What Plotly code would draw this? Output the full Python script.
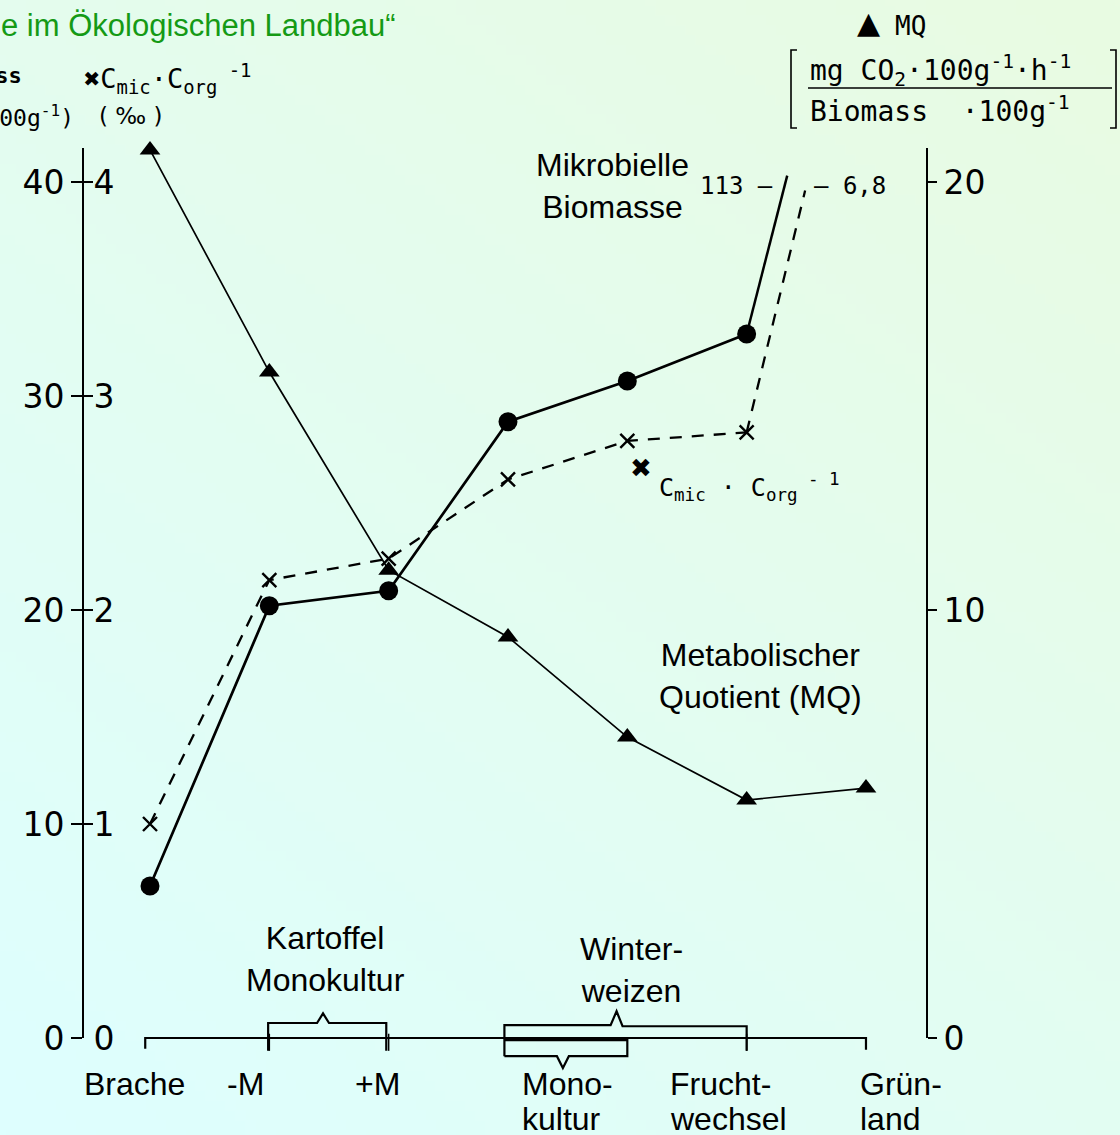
import base64, struct, zlib
import numpy as np
import plotly.graph_objects as go

# ---------------- data ----------------
categories = ["Brache", "-M", "+M", "Monokultur", "Monokultur (WW)", "Fruchtwechsel", "Grünland"]
cat_x = [0, 1, 2, 3, 4, 5, 6]
biomass = [7.1, 20.2, 20.9, 28.8, 30.7, 32.9]          # mg C / 100 g (Grünland off-scale: 113)
biomass_gruenland = 113
biomass_break = (5.34, 40.3)                             # drawn end of broken line
cmic_corg = [1.00, 2.14, 2.24, 2.61, 2.79, 2.83]         # per mille (Grünland off-scale: 6.8)
cmic_gruenland = 6.8
cmic_break = (5.49, 3.96)
mq = [20.75, 15.56, 10.93, 9.37, 7.03, 5.56, 5.84]

left_ticks = [0, 10, 20, 30, 40]
inner_ticks = [0, 1, 2, 3, 4]
right_ticks = [0, 10, 20]

label_line1 = ["Brache", "-M", "+M", "Mono-", "Frucht-", "Grün-"]
label_line2 = ["", "", "", "kultur", "wechsel", "land"]
label_x = [-0.13, 0.80, 1.91, 3.10, 4.34, 5.93]
label_anchor = ["center", "center", "center", "left", "left", "left"]

# ---------------- geometry ----------------
W, H = 1120, 1135
L, R, T, B = 84, 926, 148, 1038
X0PIX, DX = 150.0, 119.33
XMIN, XMAX = (L - X0PIX) / DX, (R - X0PIX) / DX
PPU = 21.4
YMAX = (B - T) / PPU


def px(x):
    return (x - L) / (R - L)


def py(y):
    return (B - y) / (B - T)


def xp(i):
    return (i - XMIN) / (XMAX - XMIN)


def yp(v):
    return v / YMAX


# ---------------- background gradient ----------------
gw, gh = 112, 114
u = np.linspace(0, 1, gw)[None, :]
v = np.linspace(0, 1, gh)[:, None]
t = np.clip(((1 - u) * 0.55 + v * 0.75) / 1.3, 0, 1)
c0 = np.array([233, 251, 226], float)
c1 = np.array([222, 255, 255], float)
img = (c0[None, None, :] * (1 - t[..., None]) + c1[None, None, :] * t[..., None]).astype(np.uint8)


def png_bytes(arr):
    h, w, _ = arr.shape
    raw = b"".join(b"\x00" + arr[r].tobytes() for r in range(h))

    def chunk(tag, data):
        c = struct.pack(">I", len(data)) + tag + data
        return c + struct.pack(">I", zlib.crc32(tag + data) & 0xFFFFFFFF)

    return (b"\x89PNG\r\n\x1a\n" + chunk(b"IHDR", struct.pack(">IIBBBBB", w, h, 8, 2, 0, 0, 0))
            + chunk(b"IDAT", zlib.compress(raw, 9)) + chunk(b"IEND", b""))


bg_src = "data:image/png;base64," + base64.b64encode(png_bytes(img)).decode()

# ---------------- figure ----------------
fig = go.Figure()

# microbial biomass
fig.add_trace(go.Scatter(x=cat_x[:6], y=biomass, mode="lines+markers", yaxis="y",
                         line=dict(color="black", width=2.7),
                         marker=dict(symbol="circle", size=19, color="black"),
                         name="Mikrobielle Biomasse", cliponaxis=False))
fig.add_trace(go.Scatter(x=[cat_x[5], biomass_break[0]], y=[biomass[5], biomass_break[1]],
                         mode="lines", yaxis="y", line=dict(color="black", width=2.5),
                         showlegend=False, hoverinfo="skip"))
# Cmic/Corg
fig.add_trace(go.Scatter(x=cat_x[:6], y=cmic_corg, mode="lines+markers", yaxis="y3",
                         line=dict(color="black", width=2.3, dash="12px,10px"),
                         marker=dict(symbol="x-thin", size=14, line=dict(color="black", width=2.4)),
                         name="Cmic/Corg", cliponaxis=False))
fig.add_trace(go.Scatter(x=[cat_x[5], cmic_break[0]], y=[cmic_corg[5], cmic_break[1]],
                         mode="lines", yaxis="y3", line=dict(color="black", width=2.3, dash="12px,10px"),
                         showlegend=False, hoverinfo="skip"))
# MQ
fig.add_trace(go.Scatter(x=cat_x, y=mq, mode="lines+markers", yaxis="y2",
                         line=dict(color="black", width=1.7),
                         marker=dict(symbol="triangle-up", size=18, color="black"),
                         name="MQ", cliponaxis=False))

tickfont = dict(family="DejaVu Sans", size=33, color="black")

fig.update_layout(
    width=W, height=H,
    margin=dict(l=L, r=W - R, t=T, b=H - B, autoexpand=False),
    paper_bgcolor="#e3fdf0",
    plot_bgcolor="rgba(0,0,0,0)",
    showlegend=False,
    xaxis=dict(range=[XMIN, XMAX], visible=False, showgrid=False, zeroline=False, fixedrange=True),
    yaxis=dict(range=[0, YMAX], side="left", showline=True, linecolor="black", linewidth=2,
               ticks="outside", ticklen=11, tickwidth=1.5, tickcolor="black",
               tickvals=left_ticks, tickfont=tickfont, showgrid=False, zeroline=False),
    yaxis3=dict(range=[0, YMAX / 10], overlaying="y", side="left", anchor="x", showline=False,
                ticks="inside", ticklen=9, tickwidth=1.5, tickcolor="black",
                ticklabelposition="inside", ticklabelstandoff=4, ticklabeloverflow="allow",
                tickvals=inner_ticks, tickfont=tickfont, showgrid=False, zeroline=False),
    yaxis2=dict(range=[0, YMAX / 2], overlaying="y", side="right", anchor="x", showline=True,
                linecolor="black", linewidth=2, ticks="outside", ticklen=9, tickwidth=1.5,
                tickcolor="black", tickvals=right_ticks, tickfont=tickfont,
                showgrid=False, zeroline=False),
    images=[dict(source=bg_src, xref="paper", yref="paper", x=px(0), y=py(0),
                 sizex=W / (R - L), sizey=H / (B - T), sizing="stretch", layer="below",
                 xanchor="left", yanchor="top")],
)

# ---------------- shapes (baseline, brackets, unit fraction) ----------------
LW = 2.2
shapes = []


def path(pts, width=LW):
    d = "M " + " L ".join(f"{a:.5f},{b:.5f}" for a, b in pts)
    shapes.append(dict(type="path", path=d, xref="paper", yref="paper",
                       line=dict(color="black", width=width)))


# baseline with ticks
path([(xp(-0.04), yp(-0.5)), (xp(-0.04), yp(0)), (xp(6), yp(0)), (xp(6), yp(-0.55))])
for i in [1, 2, 5]:
    path([(xp(i), yp(0.2)), (xp(i), yp(-0.6))], width=1.5)
# Kartoffel bracket
path([(xp(0.99), yp(-0.6)), (xp(0.99), yp(0.7)), (xp(1.40), yp(0.7)), (xp(1.45), yp(1.15)),
      (xp(1.50), yp(0.7)), (xp(1.98), yp(0.7)), (xp(1.98), yp(-0.6))])
# Winterweizen upper bracket
path([(xp(2.97), yp(-0.85)), (xp(2.97), yp(0.6)), (xp(3.86), yp(0.6)), (xp(3.91), yp(1.25)),
      (xp(3.96), yp(0.55)), (xp(5.0), yp(0.55)), (xp(5.0), yp(-0.6))])
# Winterweizen lower bracket
path([(xp(2.97), yp(-0.1)), (xp(4.0), yp(-0.1)), (xp(4.0), yp(-0.85)), (xp(3.51), yp(-0.85)),
      (xp(3.46), yp(-1.4)), (xp(3.41), yp(-0.85)), (xp(2.97), yp(-0.85))])
# unit fraction at top right
path([(px(808), py(88)), (px(1112), py(88))], width=1.6)
path([(px(797), py(50)), (px(791), py(50)), (px(791), py(128)), (px(797), py(128))], width=1.6)
path([(px(1110), py(50)), (px(1116), py(50)), (px(1116), py(128)), (px(1110), py(128))], width=1.6)
fig.update_layout(shapes=shapes)

# ---------------- annotations ----------------
ARIAL = "Liberation Sans"
TECH = "DejaVu Sans"
MONO = "DejaVu Sans Mono"
ann = []


def A(text, x, y, size, family=ARIAL, xanchor="center", yanchor="middle", align="center",
      color="black", xref="paper"):
    ann.append(dict(text=text, x=x, y=y, xref=xref, yref="paper", showarrow=False,
                    xanchor=xanchor, yanchor=yanchor, align=align,
                    font=dict(family=family, size=size, color=color)))


A("e im Ökologischen Landbau“", px(-1), py(25), 31, xanchor="left", color="#159a15")
A("<b>Biomass</b>", px(24), py(76), 22, family=MONO, xanchor="right")
A("(mg·100g<sup>-1</sup>)", px(76), py(116), 23, family=MONO, xanchor="right")
A("( ‰ )", px(130), py(116), 23, family=TECH)
A("<b>✖</b>C<sub>mic</sub>·C<sub>org</sub><sup> -1</sup>", px(82), py(78), 27, family=MONO, xanchor="left")
A("▲", px(868), py(22), 30, family=TECH)
A("MQ", px(893), py(26), 26, family=MONO, xanchor="left")
A("mg CO<sub>2</sub>·100g<sup>-1</sup>·h<sup>-1</sup>", px(808), py(70), 28, family=MONO, xanchor="left")
A("Biomass  ·100g<sup>-1</sup>", px(808), py(110), 28, family=MONO, xanchor="left")

A("Mikrobielle<br>Biomasse", px(612), py(186), 32)
A(f"{biomass_gruenland} –", px(775), py(186), 24, family=MONO, xanchor="right")
A(f"– {str(cmic_gruenland).replace('.', ',')}", px(812), py(186), 24, family=MONO, xanchor="left")
A("<b>✖</b>", px(641), py(468), 26, family=TECH)
A("C<sub>mic</sub> · C<sub>org</sub><sup> - 1</sup>", px(657), py(487), 25, family=MONO, xanchor="left")
A("Metabolischer<br>Quotient (MQ)", px(760), py(676), 32)
A("Kartoffel<br>Monokultur", px(325), py(959), 32)
A("Winter-<br>weizen", px(631), py(970), 32)

for t1, t2, lx, anc in zip(label_line1, label_line2, label_x, label_anchor):
    A(t1, lx, py(1084), 32, xanchor=anc, xref="x")
    if t2:
        A(t2, lx, py(1119), 32, xanchor=anc, xref="x")

fig.update_layout(annotations=ann)

fig.write_html("out.html", config={"displayModeBar": False},
               post_script="document.body.style.margin='0';")
